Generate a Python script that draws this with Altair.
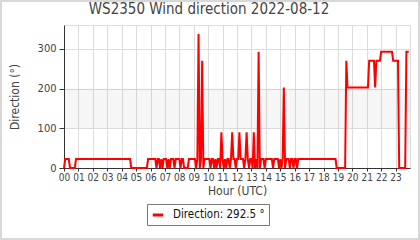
import altair as alt
import pandas as pd

# Wind direction (degrees), one value every 5 minutes, 12 values per hour (00..23 UTC)
direction_5min = [
    0, 22.5, 22.5, 22.5, 22.5, 0, 0, 0, 0, 0, 22.5, 22.5,                      # 00
    22.5, 22.5, 22.5, 22.5, 22.5, 22.5, 22.5, 22.5, 22.5, 22.5, 22.5, 22.5,     # 01
    22.5, 22.5, 22.5, 22.5, 22.5, 22.5, 22.5, 22.5, 22.5, 22.5, 22.5, 22.5,     # 02
    22.5, 22.5, 22.5, 22.5, 22.5, 22.5, 22.5, 22.5, 22.5, 22.5, 22.5, 22.5,     # 03
    22.5, 22.5, 22.5, 22.5, 22.5, 22.5, 22.5, 22.5, 0, 0, 0, 0,                 # 04
    0, 0, 0, 0, 0, 0, 0, 0, 0, 0, 22.5, 22.5,                                   # 05
    22.5, 22.5, 22.5, 22.5, 22.5, 0, 22.5, 22.5, 0, 22.5, 0, 22.5,              # 06
    22.5, 22.5, 0, 22.5, 0, 22.5, 22.5, 22.5, 0, 22.5, 22.5, 22.5,              # 07
    22.5, 0, 22.5, 22.5, 0, 0, 0, 0, 22.5, 22.5, 22.5, 22.5,                    # 08
    22.5, 22.5, 0, 22.5, 337.5, 0, 22.5, 270, 0, 22.5, 22.5, 22.5,              # 09
    22.5, 22.5, 0, 22.5, 22.5, 0, 22.5, 0, 22.5, 22.5, 0, 90,                   # 10
    22.5, 0, 22.5, 0, 22.5, 22.5, 0, 22.5, 90, 22.5, 22.5, 0,                   # 11
    22.5, 22.5, 90, 22.5, 22.5, 22.5, 0, 22.5, 90, 22.5, 0, 22.5,               # 12
    22.5, 0, 90, 0, 22.5, 0, 292.5, 0, 22.5, 22.5, 22.5, 0,                     # 13
    22.5, 22.5, 22.5, 22.5, 22.5, 22.5, 0, 22.5, 22.5, 22.5, 22.5, 0,           # 14
    22.5, 0, 22.5, 202.5, 0, 22.5, 22.5, 22.5, 0, 22.5, 22.5, 0,                # 15
    22.5, 22.5, 0, 22.5, 22.5, 22.5, 22.5, 22.5, 22.5, 22.5, 22.5, 22.5,        # 16
    22.5, 22.5, 22.5, 22.5, 22.5, 22.5, 22.5, 22.5, 22.5, 22.5, 22.5, 22.5,     # 17
    22.5, 22.5, 22.5, 22.5, 22.5, 22.5, 22.5, 22.5, 22.5, 22.5, 22.5, 0,        # 18
    0, 0, 0, 0, 0, 0, 0, 270, 202.5, 202.5, 202.5, 202.5,                       # 19
    202.5, 202.5, 202.5, 202.5, 202.5, 202.5, 202.5, 202.5, 202.5, 202.5, 202.5, 202.5,  # 20
    202.5, 202.5, 270, 270, 270, 270, 270, 202.5, 270, 270, 270, 270,           # 21
    292.5, 292.5, 292.5, 292.5, 292.5, 292.5, 292.5, 292.5, 292.5, 292.5, 270, 270,  # 22
    270, 270, 270, 0, 0, 0, 0, 0, 0, 292.5, 292.5, 292.5,                       # 23
]
minutes_per_sample = 5

hour_ticks = list(range(24))
y_ticks = [0, 50, 100, 150, 200, 250, 300, 350]
band_low = [100]
band_high = [200]

title_text = "WS2350 Wind direction 2022-08-12"
x_title = "Hour (UTC)"
y_title = "Direction (°)"
series_label = f"Direction: {direction_5min[-1]} °"

df = pd.DataFrame({
    "hour": [i * minutes_per_sample / 60 for i in range(len(direction_5min))],
    "direction": direction_5min,
    "series": series_label,
})
band_df = pd.DataFrame({"low": band_low, "high": band_high})

W, H = 346, 143
FONT = "DejaVu Sans Condensed"
TXT = "#444444"
GRID = "#dcdcdc"
AXIS = "#333333"

x_enc = alt.X(
    "hour:Q",
    scale=alt.Scale(domain=[0, 24], nice=False, zero=False),
    axis=alt.Axis(
        values=hour_ticks,
        labelExpr="(datum.value < 10 ? '0' : '') + datum.value",
        labelOverlap=False,
        labelFlush=False,
        title=x_title,
        grid=True,
        gridColor=GRID,
        domainColor=AXIS,
        tickColor=AXIS,
        tickSize=3,
        labelPadding=1,
        labelFont=FONT,
        labelFontSize=10,
        labelColor=TXT,
        titleFont=FONT,
        titleFontSize=12,
        titleFontWeight="normal",
        titleColor=TXT,
        titlePadding=3,
    ),
)
y_enc = alt.Y(
    "direction:Q",
    scale=alt.Scale(domain=[0, 360], nice=False),
    axis=alt.Axis(
        values=y_ticks,
        labelExpr="datum.value % 100 === 0 ? datum.label : ''",
        title=y_title,
        grid=True,
        gridColor=GRID,
        gridOpacity={"condition": {"test": "datum.value % 100 === 0", "value": 1}, "value": 0},
        tickSize={"condition": {"test": "datum.value % 100 === 0", "value": 5}, "value": 3},
        domainColor=AXIS,
        tickColor=AXIS,
        labelPadding=3,
        labelFont=FONT,
        labelFontSize=11,
        labelColor=TXT,
        titleFont=FONT,
        titleFontSize=12,
        titleFontWeight="normal",
        titleColor=TXT,
        titlePadding=16,
    ),
)

band = alt.Chart(band_df).mark_rect(color="#000000", opacity=0.035).encode(
    x=alt.value(0),
    x2=alt.value(W),
    y=alt.Y("low:Q", scale=alt.Scale(domain=[0, 360], nice=False)),
    y2="high:Q",
)

line = alt.Chart(df).mark_line(strokeWidth=2, interpolate="linear").encode(
    x=x_enc,
    y=y_enc,
    color=alt.Color(
        "series:N",
        scale=alt.Scale(range=["#ff0000"]),
        legend=alt.Legend(
            title=None,
            orient="none",
            legendX=83,
            legendY=179,
            symbolType="stroke",
            symbolSize=110,
            symbolStrokeWidth=3,
            labelFont=FONT,
            labelFontSize=11.5,
            labelColor="#111111",
            labelOffset=8,
            padding=4,
            strokeColor="#777777",
            fillColor="#ffffff",
        ),
    ),
)

frame = alt.Chart(band_df).mark_rect(
    fill=None, stroke="#d8d8d8", strokeWidth=2
).encode(
    x=alt.value(-63), x2=alt.value(W + 9), y=alt.value(-24), y2=alt.value(H + 71)
)

chart = alt.layer(band, line, frame).properties(
    width=W,
    height=H,
    padding={"left": 64, "top": 25, "right": 10, "bottom": 72},
    autosize=alt.AutoSizeParams(type="none"),
    title=alt.TitleParams(
        title_text,
        font=FONT,
        fontSize=15,
        fontWeight="normal",
        color=TXT,
        anchor="middle",
        frame="group",
        dx=-28,
        dy=38,
        offset=9,
        baseline="alphabetic",
    ),
).configure_view(stroke=None).configure(background="#ffffff")

chart.save("out.html", embed_options={"renderer": "svg", "actions": False})
